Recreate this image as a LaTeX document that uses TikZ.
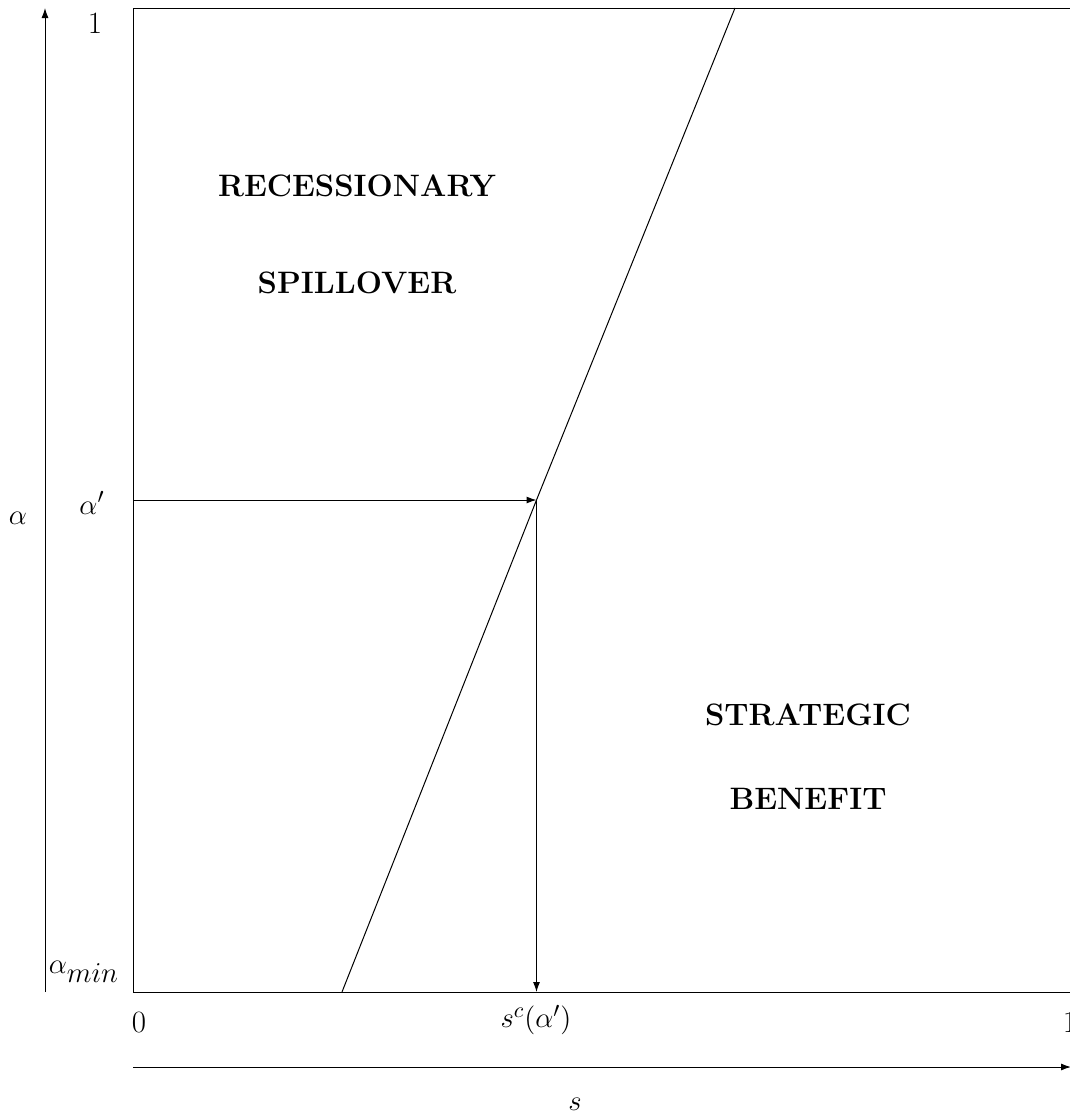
\documentclass[tikz,border=0pt]{standalone}
\usetikzlibrary{arrows.meta}
\begin{document}
\begin{tikzpicture}[x=0.5pt,y=-0.5pt,
  lbl/.style={inner sep=0pt,font=\fontsize{15.5}{18}\selectfont},
  region/.style={inner sep=0pt,font=\fontsize{15.5}{18}\selectfont\bfseries},
  ln/.style={line width=0.5pt},
  arr/.style={line width=0.5pt,-{Latex[length=5pt,width=3.5pt]}}]
\useasboundingbox (0,0) rectangle (1070,1115);
% frame
\coordinate (tl) at (133,8);
\coordinate (bl) at (133,992);
\coordinate (tr) at (1072,8);
\coordinate (br) at (1072,992);
\draw[ln] (tr) -- (tl) -- (bl) -- (br);
% boundary curve
\coordinate (c0) at (342,992);
\coordinate (cm) at (536.5,500);
\coordinate (c1) at (735,8);
\draw[ln] (c0) -- (cm) -- (c1);
% alpha' guide
\coordinate (ap) at (133,500);
\coordinate (sc) at (536.5,992);
\draw[arr] (ap) -- (cm);
\draw[arr] (cm) -- (sc);
% axes
\coordinate (ay0) at (45,992);
\coordinate (ay1) at (45,8);
\draw[arr] (ay0) -- (ay1);
\coordinate (ax0) at (133,1067);
\coordinate (ax1) at (1071,1067);
\draw[arr] (ax0) -- (ax1);
% labels
\node[lbl] (one) at (95,23) {1};
\node[lbl] (alphap) at (92,503) {$\alpha'$};
\node[lbl] (alpha) at (18,518) {$\alpha$};
\node[lbl] (amin) at (84,972) {$\alpha_{\hbox{\fontsize{14}{16}\selectfont$min$}}$};
\node[lbl] (zero) at (139,1022) {0};
\node[lbl] (scl) at (536,1020) {$s^c(\alpha')$};
\node[lbl] (oner) at (1070,1022) {1};
\node[lbl] (s) at (575,1104) {$s$};
\node[region] (rec) at (357,186) {RECESSIONARY};
\node[region] (spill) at (357,283) {SPILLOVER};
\node[region] (strat) at (808,715) {STRATEGIC};
\node[region] (ben) at (808,799) {BENEFIT};
\end{tikzpicture}
\end{document}
